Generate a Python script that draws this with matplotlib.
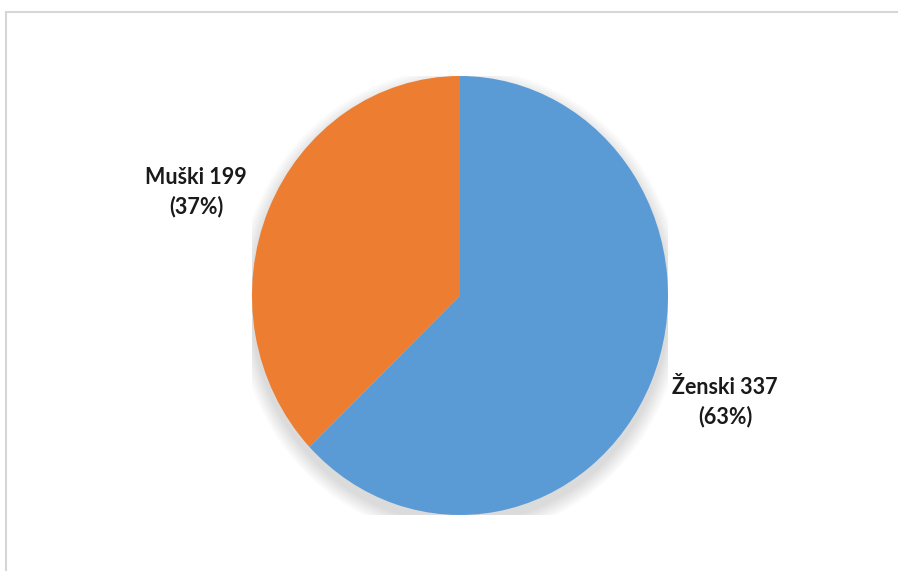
import numpy as np
import matplotlib.pyplot as plt
from matplotlib.patches import Ellipse
from matplotlib.lines import Line2D

labels = ['Muški', 'Ženski']
counts = [199, 337]
colors = ['#ED7D31', '#5B9BD5']

W, H = 898, 571
fig = plt.figure(figsize=(W / 100, H / 100), dpi=100)
fig.patch.set_facecolor('white')

# chart frame (only left and top edges visible in the crop)
fig.add_artist(Line2D([5.5 / W, 5.5 / W], [0, 1 - 12 / H], color='#d6d6d6', lw=1.5))
fig.add_artist(Line2D([5.5 / W, 1.01], [1 - 12 / H, 1 - 12 / H], color='#d6d6d6', lw=1.5))

# pie axes, slightly stretched vertically like the source
cx, cy, rx, ry = 460, 295.5, 208, 219.5
ax = fig.add_axes([(cx - rx) / W, (H - cy - ry) / H, 2 * rx / W, 2 * ry / H])

# soft shadow
for i in range(12):
    r = 1.0 + 0.006 * (12 - i)
    ax.add_patch(Ellipse((0, -0.035), 2 * r, 2 * r, color='black', alpha=0.012, lw=0, zorder=0))

wedges, _ = ax.pie(counts, colors=colors, startangle=90, counterclock=True,
                   wedgeprops=dict(linewidth=0))
for w in wedges:
    w.set_zorder(2)
ax.set_aspect('auto')
ax.set_xlim(-1, 1)
ax.set_ylim(-1, 1)
ax.axis('off')

total = sum(counts)
pos = [(196, 192), (725, 402)]
for lab, n, (px, py) in zip(labels, counts, pos):
    pct = round(100 * n / total)
    fig.text(px / W, 1 - py / H, f'{lab} {n}\n({pct}%)', ha='center', va='center',
             fontsize=15.5, fontweight='bold', family='Lato', linespacing=1.4,
             color='#1a1a1a')

plt.savefig('out.png', dpi=100, facecolor='white')
